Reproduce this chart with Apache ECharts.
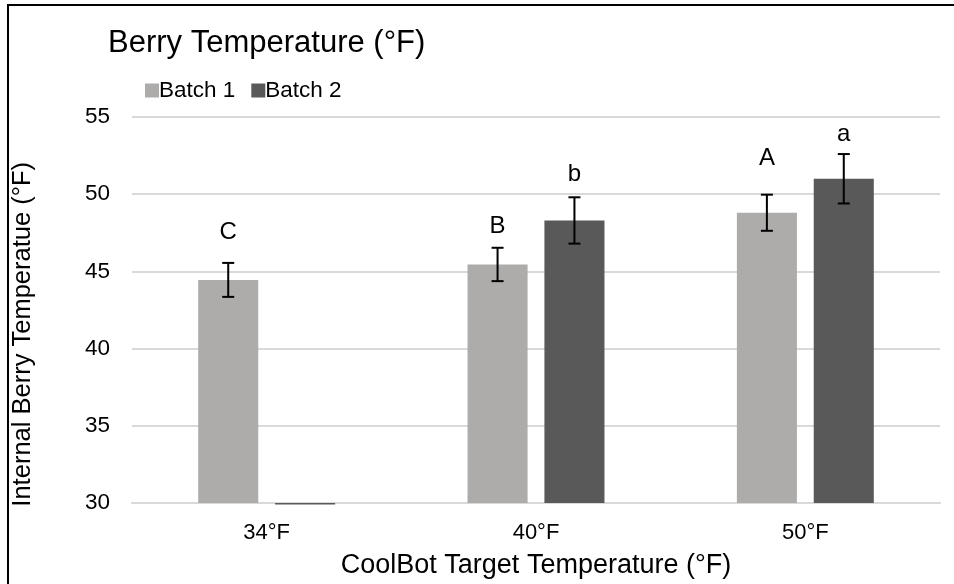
<!DOCTYPE html>
<html><head><meta charset="utf-8">
<script src="https://cdn.jsdelivr.net/npm/echarts@6/dist/echarts.min.js"></script>
<style>html,body{margin:0;padding:0;background:#fff}#c{width:954px;height:584px}</style>
</head><body><div id="c"></div>
<script>
const categories = ['34°F', '40°F', '50°F'];
const batch1 = [44.45, 45.45, 48.8];
const batch2 = [29.9, 48.3, 51.0];
const batch1Err = [1.1, 1.08, 1.17];
const batch2Err = [null, 1.5, 1.6];
const batch1Letters = ['C', 'B', 'A'];
const batch2Letters = ['', 'b', 'a'];
const batch1LetterY = [47.5, 47.9, 52.3];
const batch2LetterY = [null, 51.3, 53.9];
const yTicks = [30, 35, 40, 45, 50, 55];

const FONT = 'Liberation Sans, Arial, sans-serif';
const BAR_W = 0.223, BAR_GAP = 0.28;
const COLORS = ['#AEABAB', '#595959'];
const Y_MIN = yTicks[0];

const errData = [];
const belowData = [];
categories.forEach((c, i) => {
  if (batch1Err[i] != null) errData.push([i, batch1[i], batch1Err[i], batch1LetterY[i], batch1Letters[i], 0]);
  if (batch2Err[i] != null) errData.push([i, batch2[i], batch2Err[i], batch2LetterY[i], batch2Letters[i], 1]);
  if (batch1[i] < Y_MIN) belowData.push([i, batch1[i], 0]);
  if (batch2[i] < Y_MIN) belowData.push([i, batch2[i], 1]);
});

function barX(api, cat, s) {
  const band = api.size([1, 0])[0];
  const bw = band * BAR_W, gap = bw * BAR_GAP;
  const off = (bw + gap) / 2 * (s === 0 ? -1 : 1);
  return { x: api.coord([cat, Y_MIN])[0] + off, bw: bw };
}

const chart = echarts.init(document.getElementById('c'));
chart.setOption({
  animation: false,
  title: { text: 'Berry Temperature (°F)', left: 108, top: 28, padding: 0,
    textStyle: { fontFamily: FONT, fontSize: 31, fontWeight: 'normal', color: '#000' } },
  legend: { left: 140, top: 74, itemWidth: 14, itemHeight: 14, itemGap: 16, icon: 'rect',
    textStyle: { fontFamily: FONT, fontSize: 22.5, color: '#000', padding: [0,0,0,-5] },
    data: ['Batch 1', 'Batch 2'] },
  grid: { left: 132, right: 14, top: 117, bottom: 81 },
  xAxis: { type: 'category', data: categories,
    axisLine: { lineStyle: { color: '#D9D9D9', width: 2 } },
    axisTick: { show: false },
    axisLabel: { fontFamily: FONT, fontSize: 22, color: '#000', margin: 19 },
    name: 'CoolBot Target Temperature (°F)', nameLocation: 'middle', nameGap: 49,
    nameTextStyle: { fontFamily: FONT, fontSize: 27, color: '#000' } },
  yAxis: { type: 'value', min: Y_MIN, max: yTicks[yTicks.length-1], interval: 5,
    axisLine: { show: false }, axisTick: { show: false },
    splitLine: { lineStyle: { color: '#D9D9D9', width: 2 } },
    axisLabel: { fontFamily: FONT, fontSize: 22.5, color: '#000', margin: 22 } },
  graphic: [
    { type: 'polyline', shape: { points: [[8, 584], [8, 5], [954, 5]] },
      style: { stroke: '#000', lineWidth: 2, fill: null } },
    { type: 'text', left: 10, top: 162, rotation: Math.PI/2,
      style: { text: 'Internal Berry Temperatue (°F)', font: '25.5px ' + FONT, fill: '#000' } }
  ],
  series: [
    { name: 'Batch 1', type: 'bar', data: batch1, barWidth: (BAR_W*100)+'%', barGap: (BAR_GAP*100)+'%',
      itemStyle: { color: COLORS[0] } },
    { name: 'Batch 2', type: 'bar', data: batch2, barWidth: (BAR_W*100)+'%', barGap: (BAR_GAP*100)+'%',
      itemStyle: { color: COLORS[1] } },
    { type: 'custom', data: belowData, z: 9, clip: false,
      renderItem: function (params, api) {
        const d = belowData[params.dataIndex];
        const p = barX(api, d[0], d[2]);
        const y0 = api.coord([d[0], Y_MIN])[1];
        const y1 = api.coord([d[0], d[1]])[1];
        return { type: 'rect', shape: { x: p.x - p.bw / 2, y: y0, width: p.bw, height: y1 - y0 },
          style: { fill: COLORS[d[2]] } };
      } },
    { type: 'custom', data: errData, z: 10, clip: false,
      renderItem: function (params, api) {
        const d = errData[params.dataIndex];
        const cat = d[0], v = d[1], e = d[2], ly = d[3], letter = d[4], s = d[5];
        const p = barX(api, cat, s);
        const x = p.x;
        const top = api.coord([cat, v + e])[1];
        const bot = api.coord([cat, v - e])[1];
        const lp = api.coord([cat, ly])[1];
        const cw = 6;
        const st = { stroke: '#000', lineWidth: 2 };
        return { type: 'group', children: [
          { type: 'line', shape: { x1: x, y1: top, x2: x, y2: bot }, style: st },
          { type: 'line', shape: { x1: x - cw, y1: top, x2: x + cw, y2: top }, style: st },
          { type: 'line', shape: { x1: x - cw, y1: bot, x2: x + cw, y2: bot }, style: st },
          { type: 'text', x: x, y: lp, style: { text: letter, font: '24px ' + FONT, fill: '#000',
              align: 'center', verticalAlign: 'middle' } }
        ]};
      } }
  ]
});
</script></body></html>
